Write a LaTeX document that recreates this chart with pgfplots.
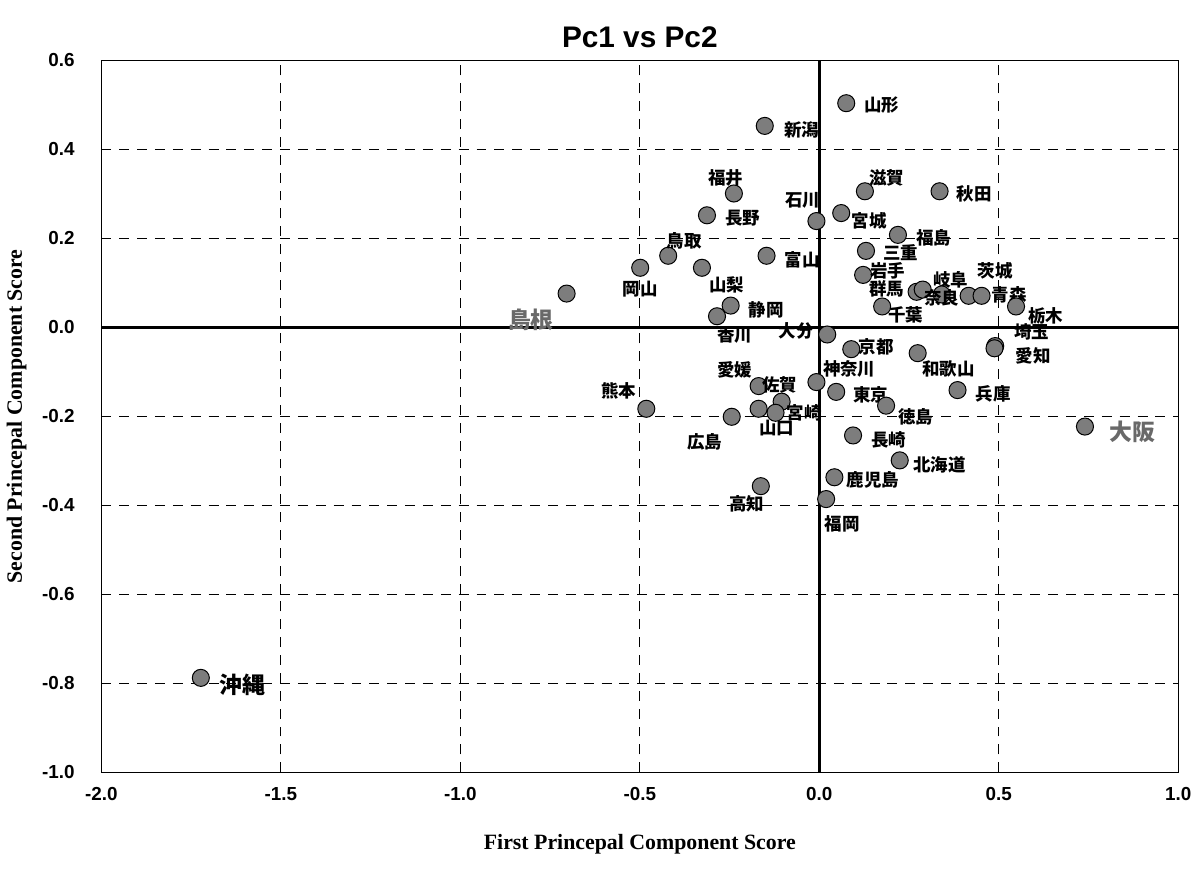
\documentclass[border=0pt]{standalone}
\usepackage{fontspec}
\usepackage{pgfplots}
\usepackage{pgfplotstable}
\pgfplotsset{compat=1.18}
\setmainfont{Liberation Sans}
\newfontfamily\timesfont{Liberation Serif}
\newfontfamily\cjk{Noto Sans CJK JP}
\definecolor{markgray}{RGB}{125,125,125}
\definecolor{biggray}{RGB}{105,105,105}

% PC scores; dx/dy = label offset (pt)
\pgfplotstableread{
x y dx dy name
0.075 0.504 18 -1 山形
-0.152 0.453 18.5 -2 新潟
-0.238 0.301 -4 8 福井
-0.313 0.252 18 -1.5 長野
-0.008 0.239 -7 10.5 石川
0.061 0.257 14 -4 宮城
0.127 0.306 11 6.5 滋賀
0.335 0.306 17.5 -1.5 秋田
0.219 0.208 18 -1.5 福島
0.130 0.172 17.5 -1 三重
0.122 0.118 12.5 2 岩手
0.271 0.080 -15 1.5 群馬
0.288 0.085 14 5 岐阜
0.341 0.074 0 -1.5 奈良
0.416 0.071 13.5 12.5 茨城
0.452 0.071 14 0.5 青森
0.548 0.047 15 -4.5 栃木
0.175 0.047 12 -4 千葉
-0.421 0.161 8 7.5 鳥取
-0.499 0.134 0 -11 岡山
-0.327 0.134 12.5 -8.5 山梨
-0.147 0.161 18 -2 富山
-0.247 0.049 18 -2 静岡
-0.285 0.025 9 -9.5 香川
0.022 -0.016 -15.5 2 大分
0.089 -0.049 12.5 1 京都
0.274 -0.058 15.5 -8 和歌山
0.490 -0.042 18.5 7 埼玉
0.488 -0.047 19.5 -4 愛知
-0.008 -0.123 16.5 6.5 神奈川
0.047 -0.145 17.5 -1.5 東京
0.186 -0.176 15 -5.5 徳島
0.385 -0.141 18 -2 兵庫
0.094 -0.243 18 -2 長崎
0.224 -0.299 20 -2.5 北海道
0.042 -0.337 19.5 -1.5 鹿児島
0.019 -0.386 8 -12.5 福岡
-0.163 -0.357 -7 -9 高知
-0.244 -0.201 -13.5 -12.5 広島
-0.482 -0.183 -14 9 熊本
-0.169 -0.132 -12 8 愛媛
-0.105 -0.167 -1 8.5 佐賀
-0.169 -0.183 9 -9.5 山口
-0.122 -0.192 14.5 0 宮崎
}\pref

\pgfplotstableread{
x y dx dy name
-0.704 0.076 -18 -13 島根
0.740 -0.223 24 -2.5 大阪
}\big

\pgfplotstableread{
x y dx dy name
-1.723 -0.788 21 -3.5 沖縄
}\oki

\begin{document}
\begin{tikzpicture}
\begin{axis}[
    scale only axis,
    width=542.5pt, height=358.5pt,
    xmin=-2, xmax=1, ymin=-1, ymax=0.6,
    xtick={-2,-1.5,...,1}, ytick={-1,-0.8,...,0.6},
    grid=major,
    major grid style={dash pattern=on 5pt off 4pt, black, line width=0.4pt},
    major tick length=0pt,
    axis line style={black, line width=0.6pt},
    extra x ticks={0}, extra y ticks={0},
    extra x tick labels={}, extra y tick labels={},
    extra tick style={major grid style={solid, black, line width=1.3pt}},
    /pgf/number format/.cd, fixed, fixed zerofill, precision=1, assume math mode=true,
    /pgfplots/.cd,
    tick label style={font=\bfseries\fontsize{9.5}{11}\selectfont},
    xticklabel style={yshift=-4pt},
    yticklabel style={xshift=-10pt},
    title={Pc1 vs Pc2},
    title style={font=\bfseries\fontsize{15}{17}\selectfont, yshift=-3pt},
    xlabel={First Princepal Component Score},
    ylabel={Second Princepal Component Score},
    label style={font=\timesfont\bfseries\fontsize{11}{13}\selectfont},
    xlabel style={yshift=-10pt},
    ylabel style={yshift=1pt},
]
\addplot[only marks, mark=*, mark size=4.3pt,
    mark options={fill=markgray, draw=black, line width=0.5pt},
    point meta=explicit symbolic, nodes near coords,
    visualization depends on={\thisrow{dx} \as \dx},
    visualization depends on={\thisrow{dy} \as \dy},
    every node near coord/.append style={anchor=center, inner sep=0pt,
        xshift=\dx pt, yshift=\dy pt,
        font=\cjk\bfseries\fontsize{8.8}{10}\selectfont}]
    table[x=x, y=y, meta=name] {\pref};
\addplot[only marks, mark=*, mark size=4.3pt,
    mark options={fill=markgray, draw=black, line width=0.5pt},
    point meta=explicit symbolic, nodes near coords,
    visualization depends on={\thisrow{dx} \as \dx},
    visualization depends on={\thisrow{dy} \as \dy},
    every node near coord/.append style={anchor=center, inner sep=0pt,
        xshift=\dx pt, yshift=\dy pt, text=biggray,
        font=\cjk\bfseries\fontsize{11.5}{13}\selectfont}]
    table[x=x, y=y, meta=name] {\big};
\addplot[only marks, mark=*, mark size=4.3pt,
    mark options={fill=markgray, draw=black, line width=0.5pt},
    point meta=explicit symbolic, nodes near coords,
    visualization depends on={\thisrow{dx} \as \dx},
    visualization depends on={\thisrow{dy} \as \dy},
    every node near coord/.append style={anchor=center, inner sep=0pt,
        xshift=\dx pt, yshift=\dy pt,
        font=\cjk\bfseries\fontsize{11.5}{13}\selectfont}]
    table[x=x, y=y, meta=name] {\oki};
\end{axis}
% white margin above the title and below the x label, as in the reference
\path (current bounding box.north) ++(0,10pt);
\path (current bounding box.south) ++(0,-7pt);
\end{tikzpicture}
\end{document}
